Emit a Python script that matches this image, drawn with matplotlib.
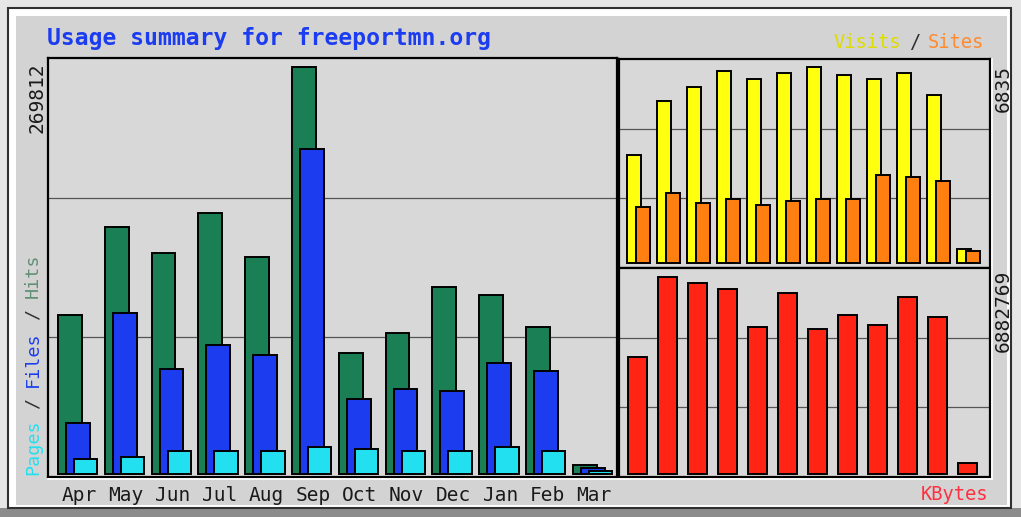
import matplotlib
matplotlib.use('Agg')
import matplotlib.pyplot as plt
from matplotlib.patches import Rectangle

W, H = 1021, 517

months = ['Apr', 'May', 'Jun', 'Jul', 'Aug', 'Sep', 'Oct', 'Nov', 'Dec', 'Jan', 'Feb', 'Mar']
hits = [105400, 163800, 146500, 173000, 143900, 269812, 80200, 93500, 124000, 118700, 97500, 6000]
files = [33800, 106700, 69600, 85500, 78900, 215500, 49700, 56400, 55000, 73600, 68300, 4000]
pages = [10000, 11300, 15200, 15200, 15200, 17900, 16600, 15200, 15200, 17900, 15200, 2000]
visits = [3766, 5649, 6137, 6695, 6416, 6625, 6835, 6556, 6416, 6625, 5858, 488]
sites = [1953, 2441, 2092, 2232, 2022, 2162, 2232, 2232, 3068, 2999, 2859, 418]
kbytes = [4087700, 6882769, 6673000, 6463500, 5135900, 6323800, 5066000, 5555000,
          5205800, 6184000, 5485300, 384300]

C_HITS = '#1B7F55'
C_FILES = '#1C3CF0'
C_PAGES = '#22E0F0'
C_VISITS = '#FFFF10'
C_SITES = '#FF7F10'
C_KB = '#FF2414'
BG = '#D3D3D3'
MONO = 'DejaVu Sans Mono'


def rect(x0, y0, x1, y1):
    # pixel box (top-left origin) -> figure fraction
    return [x0 / W, 1 - y1 / H, (x1 - x0) / W, (y1 - y0) / H]


def fx(x):
    return x / W


def fy(y):
    return 1 - y / H


fig = plt.figure(figsize=(W / 100, H / 100), dpi=100, facecolor='#E6E6E6')

# frame and panel
fig.patches.append(Rectangle((0, 0), 1, fy(508), transform=fig.transFigure,
                             facecolor='#8C8C8C', edgecolor='none', zorder=-3))
fig.patches.append(Rectangle((fx(8), fy(508)), fx(1011) - fx(8), fy(8) - fy(508),
                             transform=fig.transFigure, facecolor='white',
                             edgecolor='#303030', lw=1.5, zorder=-2))
fig.patches.append(Rectangle((fx(16), fy(505)), fx(1007) - fx(16), fy(16) - fy(505),
                             transform=fig.transFigure, facecolor=BG,
                             edgecolor='none', zorder=-1))


def setup(ax):
    ax.set_zorder(2)
    ax.set_facecolor('#D8D8D8')
    ax.set_xticks([])
    ax.set_yticks([])
    for s in ax.spines.values():
        s.set_color('black')
        s.set_linewidth(1.6)
    for f in (1 / 3, 2 / 3):
        ax.plot([0, 1], [f, f], transform=ax.transAxes, color='#555555', lw=0.9, zorder=1)


bar_kw = dict(align='edge', edgecolor='black', linewidth=1.4, zorder=2)

# main chart: hits / files / pages
ax = fig.add_axes(rect(48, 58, 617, 477))
setup(ax)
x = list(range(len(months)))
ax.bar(x, hits, width=0.51, color=C_HITS, **bar_kw)
ax.bar([i + 0.17 for i in x], files, width=0.51, color=C_FILES, **bar_kw)
ax.bar([i + 0.34 for i in x], pages, width=0.5, color=C_PAGES, **bar_kw)
ax.set_xlim(-0.214, 11.944)
ax.set_ylim(-1989, 275779)
for i, m in enumerate(months):
    ax.text(i + 0.45, -0.043, m, transform=ax.get_xaxis_transform(), ha='center',
            va='center', fontsize=14, family=MONO, color='#1A1A1A', clip_on=False)

# visits / sites
ax2 = fig.add_axes(rect(619, 59, 990, 268))
setup(ax2)
ax2.bar(x, visits, width=0.47, color=C_VISITS, **bar_kw)
ax2.bar([i + 0.3 for i in x], sites, width=0.45, color=C_SITES, **bar_kw)
ax2.set_xlim(-0.267, 12.1)
ax2.set_ylim(-174, 7114)

# kbytes
ax3 = fig.add_axes(rect(619, 268, 990, 477))
setup(ax3)
ax3.bar([i + 0.033 for i in x], kbytes, width=0.63, color=C_KB, **bar_kw)
ax3.set_xlim(-0.267, 12.1)
ax3.set_ylim(-104800, 7197200)

# white shadow lines under/right of the boxes
for xs, ys in [([48, 619], [479, 479]), ([619, 992], [479, 479]), ([992, 992], [59, 479])]:
    fig.add_artist(plt.Line2D([fx(v) for v in xs], [fy(v) for v in ys],
                              transform=fig.transFigure, color='white', lw=1.2, zorder=3))

# texts
fig.text(fx(47), fy(39), 'Usage summary for freeportmn.org', fontsize=16.6,
         fontweight='bold', family=MONO, color=C_FILES, va='center', ha='left')
fig.text(fx(37), fy(63), str(max(hits)), rotation=90, va='top', ha='center',
         fontsize=14, family=MONO, color='#1A1A1A')
fig.text(fx(1003), fy(65), str(max(visits)), rotation=90, va='top', ha='center',
         fontsize=14, family=MONO, color='#1A1A1A')
fig.text(fx(1003), fy(270), str(max(kbytes)), rotation=90, va='top', ha='center',
         fontsize=14, family=MONO, color='#1A1A1A')

# left legend, rotated, coloured pieces
lfs = 13.2
adv = lfs * 100 / 72 * 0.602
pieces = [('Pages', 0, C_PAGES), ('/', 6, '#303030'), ('Files', 8, C_FILES),
          ('/', 14, '#303030'), ('Hits', 16, '#5F8F75')]
for txt, idx, col in pieces:
    fig.text(fx(33), fy(475 - idx * adv), txt, rotation=90, va='bottom', ha='center',
             fontsize=lfs, family=MONO, color=col)

fig.text(fx(833), fy(42), 'Visits', fontsize=13.5, family=MONO, color='#DDDD00',
         va='center', ha='left')
fig.text(fx(909), fy(42), '/', fontsize=13.5, family=MONO, color='#303030',
         va='center', ha='left')
fig.text(fx(928), fy(42), 'Sites', fontsize=13.5, family=MONO, color='#FF8A30',
         va='center', ha='left')
fig.text(fx(988), fy(495), 'KBytes', fontsize=13.5, family=MONO, color='#FF3040',
         va='center', ha='right')

fig.savefig('out.png', dpi=100, facecolor=fig.get_facecolor())
